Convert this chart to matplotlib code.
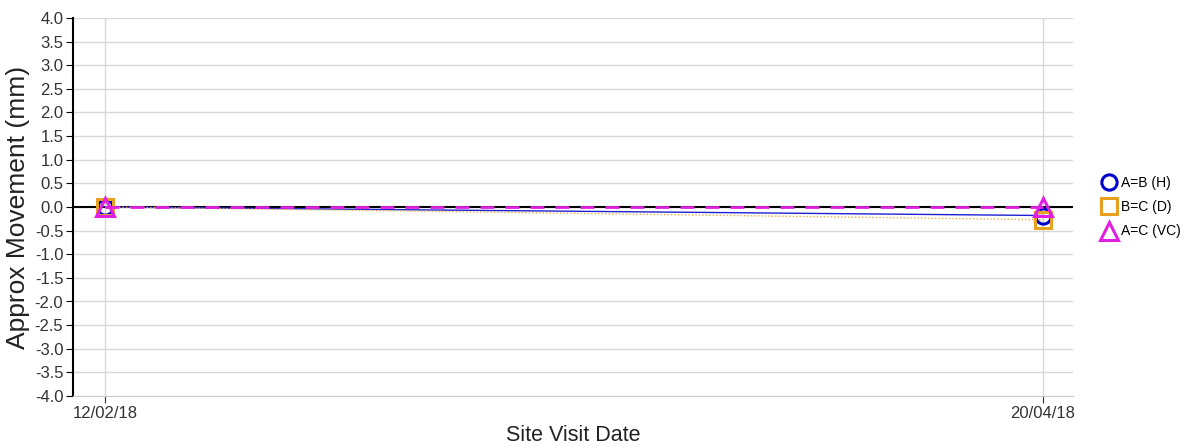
import matplotlib
matplotlib.use("Agg")
import matplotlib.pyplot as plt
from datetime import datetime, timedelta

plt.rcParams['font.family'] = ['Liberation Sans', 'DejaVu Sans']

dates = ["12/02/18", "20/04/18"]
ab_h = [0.0, -0.18]
bc_d = [0.0, -0.27]
ac_vc = [0.0, 0.0]

x = [datetime.strptime(d, "%d/%m/%y") for d in dates]

fig = plt.figure(figsize=(11.99, 4.48), dpi=100)
ax = fig.add_axes([73/1199, 1-396/448, 1000/1199, 378/448])

ax.axhline(0, color="black", lw=1.5, zorder=1)
ax.plot(x, ab_h, color="#1f1fd0", lw=1.0, marker="o", ms=11, mfc="none", mew=2.2,
        mec="#0000cc", label="A=B (H)", zorder=3)
ax.plot(x, bc_d, color="#f0b040", lw=1.0, ls=(0, (1, 1.5)), marker="s", ms=12, mfc="none",
        mew=2.2, mec="#e8a020", label="B=C (D)", zorder=3)
ax.plot(x, ac_vc, color="#e020e0", lw=2, ls=(0, (5, 4)), marker="^", ms=13, mfc="none",
        mew=2.2, mec="#e020e0", label="A=C (VC)", zorder=4)

ax.set_xlim(x[0] - timedelta(days=2.29), x[1] + timedelta(days=2.14))
ax.set_ylim(-4, 4)
ax.set_yticks([i * 0.5 for i in range(-8, 9)])
ax.yaxis.set_major_formatter(matplotlib.ticker.FormatStrFormatter("%.1f"))
ax.set_xticks(x)
ax.set_xticklabels(dates)
ax.grid(True, color="#d8d8d8", lw=1)
ax.set_axisbelow(True)

for s in ["top", "right"]:
    ax.spines[s].set_visible(False)
ax.spines["left"].set_color("black")
ax.spines["left"].set_linewidth(1.5)
ax.spines["bottom"].set_color("#cccccc")
ax.tick_params(axis="both", labelsize=12, colors="#333333", length=5, pad=2)
ax.tick_params(axis="y", color="black")

ax.set_ylabel("Approx Movement (mm)", fontsize=19, color="#222222", labelpad=3)
ax.set_xlabel("Site Visit Date", fontsize=15.5, color="#222222", labelpad=3)

leg = ax.legend(loc="center left", bbox_to_anchor=(1.015, 0.5), frameon=False,
                fontsize=10, handlelength=1.2, handletextpad=0.3, labelspacing=0.75)
for h in leg.legend_handles:
    h.set_linestyle("none")

fig.savefig("out.png", dpi=100)
